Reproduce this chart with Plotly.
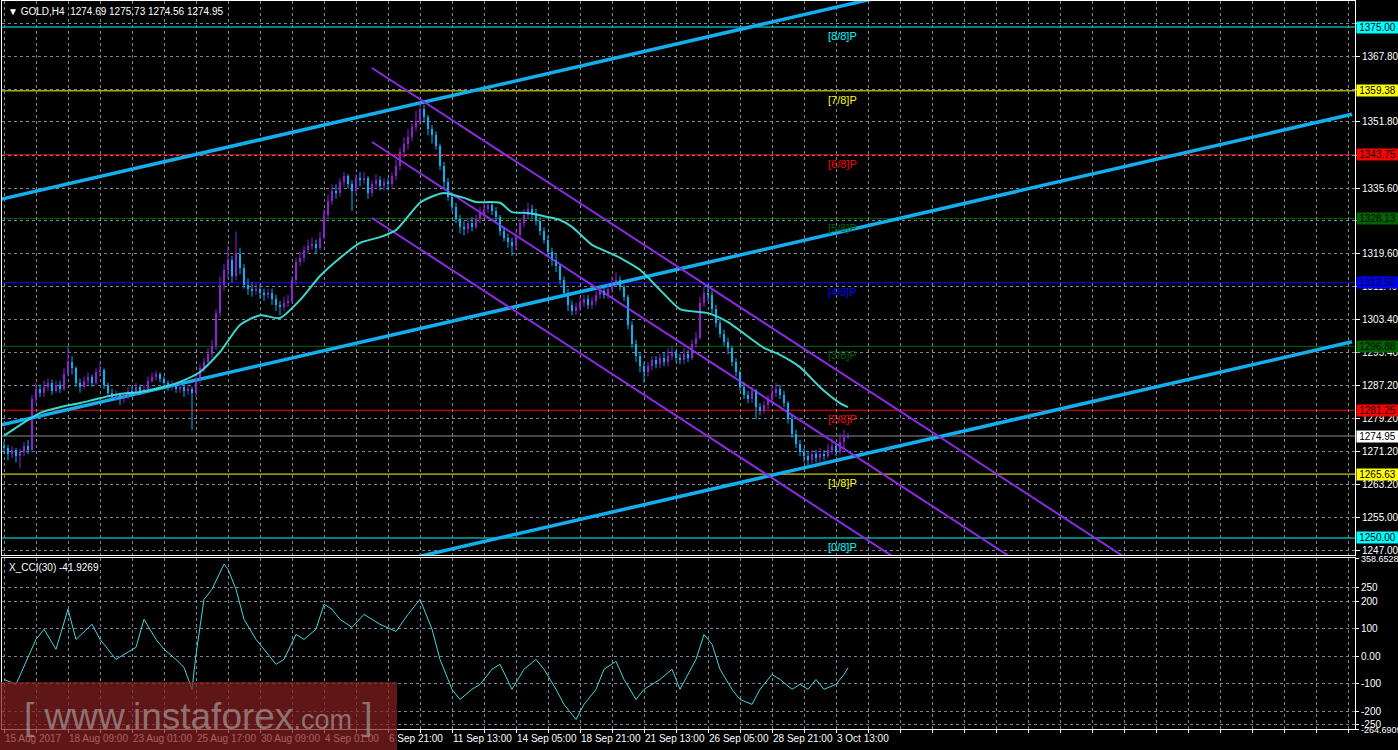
import plotly.graph_objects as go

# ---------------- data ----------------
first_open = 1272.5
close = [1272.0,1270.5,1271.5,1270.0,1271.0,1272.5,1271.5,1284.0,1286.5,1285.5,
         1287.0,1288.0,1286.0,1287.5,1286.5,1290.0,1293.0,1291.5,1288.0,1287.0,
         1288.5,1289.5,1288.0,1290.5,1291.0,1287.5,1285.5,1284.5,1285.0,1284.0,
         1284.5,1286.0,1285.5,1287.0,1286.0,1286.5,1288.5,1289.5,1290.0,1289.0,
         1288.0,1287.0,1287.5,1286.5,1287.0,1286.0,1286.5,1285.5,1289.0,1291.5,
         1293.0,1295.0,1297.0,1305.0,1312.0,1315.5,1318.0,1314.0,1319.5,1316.0,
         1312.0,1311.0,1310.5,1311.0,1310.0,1309.5,1310.0,1308.5,1307.0,1306.5,
         1307.5,1308.0,1313.0,1317.5,1318.5,1320.5,1321.5,1322.0,1321.0,1323.5,
         1329.0,1332.5,1335.0,1334.5,1337.0,1338.5,1336.5,1335.0,1338.0,1337.5,
         1338.0,1334.5,1336.5,1337.5,1336.0,1337.0,1336.5,1338.5,1341.0,1344.5,
         1346.5,1348.0,1350.5,1352.0,1355.0,1353.0,1350.0,1348.5,1346.0,1341.0,
         1337.0,1333.5,1331.0,1328.0,1326.0,1325.5,1327.0,1326.0,1328.0,1329.5,
         1330.5,1331.5,1330.0,1328.5,1325.0,1323.5,1322.5,1321.5,1324.0,1327.0,
         1329.0,1330.5,1329.5,1327.5,1325.0,1323.0,1320.0,1318.0,1316.5,1313.0,
         1310.0,1307.0,1305.5,1306.5,1307.5,1308.5,1307.0,1308.0,1309.5,1310.5,
         1309.5,1311.0,1312.5,1313.0,1311.5,1309.0,1302.0,1297.5,1294.5,1292.0,
         1290.5,1292.0,1293.5,1292.5,1294.0,1293.0,1294.5,1295.5,1294.0,1293.5,
         1295.0,1294.0,1297.5,1299.0,1307.5,1310.0,1309.5,1306.0,1302.5,1300.0,
         1298.0,1296.5,1293.0,1290.5,1287.0,1285.0,1284.0,1286.0,1282.0,1281.0,
         1282.5,1284.0,1285.5,1286.5,1285.0,1283.0,1279.0,1275.5,1273.0,1271.0,
         1270.0,1269.0,1270.5,1269.5,1270.5,1270.0,1271.5,1272.5,1271.0,1273.5,
         1274.69,1274.95]
highs = [1273.5,1272.8,1272.5,1272.0,1271.8,1273.5,1274.0,1285.0,1288.0,1287.5,
         1288.5,1289.0,1288.8,1288.5,1288.5,1291.5,1297.0,1294.5,1292.0,1289.0,
         1289.5,1290.5,1290.0,1291.5,1293.0,1291.5,1288.0,1286.5,1286.0,1285.5,
         1285.5,1287.0,1287.0,1288.0,1287.5,1287.5,1289.5,1290.5,1291.0,1290.5,
         1289.5,1288.5,1288.5,1288.0,1288.0,1287.5,1287.5,1287.0,1290.0,1292.5,
         1294.0,1296.5,1298.5,1306.0,1314.0,1317.0,1321.5,1319.0,1325.0,1321.0,
         1317.0,1313.5,1312.5,1312.5,1312.0,1311.0,1311.0,1311.0,1309.5,1308.0,
         1309.0,1309.5,1314.0,1318.5,1320.0,1321.5,1323.0,1323.5,1323.0,1325.0,
         1330.5,1334.0,1336.5,1336.5,1338.0,1339.5,1339.0,1337.5,1339.0,1339.5,
         1339.5,1338.5,1337.5,1339.0,1338.5,1338.0,1338.0,1339.5,1342.5,1345.5,
         1348.0,1350.0,1351.5,1354.5,1356.5,1356.0,1353.5,1351.0,1349.5,1346.5,
         1342.0,1338.0,1334.5,1332.0,1329.0,1327.5,1328.0,1328.5,1329.0,1331.0,
         1332.0,1332.5,1332.0,1331.0,1329.0,1326.0,1324.5,1323.5,1325.0,1328.0,
         1330.5,1332.0,1331.5,1330.5,1328.5,1326.0,1324.0,1321.0,1319.5,1317.0,
         1314.0,1311.0,1308.0,1307.5,1309.0,1309.5,1309.5,1309.0,1310.5,1311.5,
         1311.5,1312.0,1314.0,1315.0,1314.0,1312.0,1309.5,1303.0,1298.5,1295.5,
         1293.0,1293.0,1294.5,1294.5,1295.0,1295.5,1296.5,1297.0,1296.0,1295.0,
         1296.5,1296.0,1298.5,1300.5,1309.0,1311.5,1312.0,1310.5,1307.0,1303.5,
         1301.0,1299.0,1297.0,1294.0,1291.0,1288.0,1286.0,1287.0,1286.5,1283.0,
         1283.5,1285.0,1287.0,1288.0,1287.5,1286.0,1283.5,1280.0,1276.5,1274.0,
         1272.0,1271.0,1271.5,1271.5,1272.0,1271.5,1273.0,1274.5,1273.0,1275.5,
         1276.5,1275.73]
lows = [1270.5,1269.0,1269.5,1268.5,1267.0,1270.0,1270.5,1271.0,1283.0,1284.5,
        1284.5,1286.0,1285.0,1285.5,1285.5,1286.0,1289.5,1290.0,1287.0,1285.5,
        1286.5,1287.5,1287.0,1287.5,1289.5,1286.5,1284.5,1283.5,1283.5,1282.5,
        1283.0,1284.0,1284.5,1285.0,1285.0,1285.0,1286.0,1288.0,1288.5,1288.0,
        1287.0,1286.0,1286.0,1285.5,1285.5,1284.5,1285.0,1276.5,1284.5,1288.0,
        1290.5,1292.0,1294.0,1296.0,1304.0,1310.5,1313.5,1312.5,1313.0,1314.5,
        1311.0,1309.5,1309.0,1309.5,1308.5,1308.0,1308.5,1307.0,1305.5,1304.5,
        1305.5,1306.5,1307.5,1312.0,1316.5,1317.5,1319.5,1320.5,1319.5,1320.5,
        1323.0,1328.0,1331.5,1333.0,1333.5,1336.0,1335.5,1330.0,1334.0,1336.0,
        1336.5,1333.0,1333.5,1335.5,1335.0,1335.0,1335.0,1335.5,1337.5,1340.0,
        1343.0,1345.0,1347.0,1349.5,1351.0,1351.5,1348.5,1346.5,1345.0,1340.0,
        1335.5,1332.5,1330.0,1327.0,1324.5,1324.0,1324.5,1325.0,1325.5,1327.0,
        1328.5,1329.5,1329.0,1327.5,1324.0,1322.5,1321.0,1319.0,1320.5,1323.0,
        1326.0,1328.0,1328.0,1326.5,1324.0,1322.0,1319.0,1316.5,1315.0,1312.0,
        1309.0,1305.5,1304.5,1304.5,1305.5,1306.5,1306.0,1306.0,1307.0,1308.5,
        1308.5,1308.5,1310.0,1311.5,1310.5,1308.0,1301.0,1296.5,1293.0,1290.5,
        1288.0,1289.5,1291.0,1291.5,1291.5,1292.0,1292.0,1293.5,1293.0,1292.5,
        1292.5,1293.0,1293.5,1296.5,1298.5,1306.5,1308.0,1305.0,1301.5,1299.0,
        1297.0,1295.0,1292.0,1289.5,1286.0,1284.0,1283.0,1283.0,1279.0,1280.0,
        1280.5,1281.5,1283.5,1284.5,1284.0,1282.0,1278.0,1274.5,1272.0,1270.0,
        1268.5,1267.5,1268.0,1268.5,1268.5,1269.0,1269.5,1270.5,1270.0,1270.5,
        1272.0,1274.56]

ma_bars = [0,4,9,14,19,24,29,34,39,44,49,54,59,64,69,74,79,84,89,94,98,104,108,110,115,118,
           124,127,131,136,139,142,147,152,155,159,164,169,176,181,190,194,199,204,209,211]
ma_vals = [1275.0,1277.6,1280.6,1282.0,1283.0,1284.2,1285.2,1285.7,1286.7,1288.2,1290.6,1295.5,
           1302.1,1304.5,1303.8,1308.2,1314.1,1318.5,1322.2,1323.6,1325.3,1332.0,1333.9,1334.4,
           1333.2,1332.2,1332.0,1329.7,1329.5,1328.5,1327.8,1326.1,1321.7,1319.5,1318.0,1315.6,
           1310.7,1306.0,1305.0,1302.8,1296.5,1294.8,1291.8,1286.9,1283.0,1282.0]

cci_bars = [0,3,8,10,13,16,18,22,24,28,30,33,35,38,40,43,45,47,48,50,52,55,56,58,60,63,65,68,70,
            73,75,78,80,82,84,87,90,94,98,101,104,105,107,109,112,114,117,119,122,124,127,130,133,
            135,138,140,143,145,148,150,153,155,158,160,164,167,169,173,175,177,179,182,184,187,
            189,192,194,197,199,201,203,205,208,210,211]
cci_vals = [-84,-102,62,99,26,172,62,117,62,-11,7,33,135,62,26,-11,-40,-120,7,208,245,336,318,245,
            135,62,26,-29,-11,80,62,99,190,172,135,106,153,117,91,153,208,172,99,-11,-120,-157,
            -120,-102,-47,-29,-120,-47,-11,-47,-120,-175,-230,-175,-120,-47,-18,-84,-157,-120,-84,
            -47,-120,-11,80,44,-47,-120,-157,-175,-120,-66,-84,-120,-102,-120,-84,-120,-102,-66,-41.93]

date_bars = [0,16,32,48,64,80,96,112,128,144,160,176,192,208]
date_labels = ["15 Aug 2017","18 Aug 09:00","23 Aug 01:00","25 Aug 17:00","30 Aug 09:00",
               "4 Sep 01:00","6 Sep 21:00","11 Sep 13:00","14 Sep 05:00","18 Sep 21:00",
               "21 Sep 13:00","26 Sep 05:00","28 Sep 21:00","3 Oct 13:00"]

price_ticks = [1247.0,1255.0,1263.2,1271.2,1279.2,1287.2,1295.4,1303.4,1311.4,1319.6,1327.6,
               1335.6,1343.6,1351.8,1359.8,1367.8,1375.8]
hidden_ticks = [1343.6, 1359.8, 1375.8]   # fully covered by the level boxes

murray_levels = [1375.00,1359.38,1343.75,1328.13,1312.50,1296.88,1281.25,1265.63,1250.00]
murray_names = ["[8/8]P","[7/8]P","[6/8]P","[5/8]P","[4/8]P","[3/8]P","[2/8]P","[1/8]P","[0/8]P"]
murray_colors = ["#00FFFF","#FFFF00","#FF0000","#006400","#0000FF","#006400","#FF0000","#FFFF00","#00FFFF"]
last_price = 1274.95

cci_ticks = [358.6528,250,200,100,0,-100,-200,-250,-264.6909]
cci_tick_text = ["<span style='font-size:9px'>358.6528</span>","250","200","100","0.00","-100",
                 "-200","-250","<span style='font-size:9px'>-264.6909</span>"]

# trend lines: (bar, price) anchors
blue_lines = [((-1, 1332.8), (337, 1408.85)),
              ((-1, 1277.6), (337, 1353.65)),
              ((-1, 1221.9), (337, 1297.99))]
purple_lines = [((92, 1364.97), (337, 1209.15)),
                ((92, 1346.87), (337, 1191.05)),
                ((92, 1328.28), (337, 1172.46))]

# ---------------- build ----------------
N = len(close)
opens = [first_open] + close[:-1]
bars = list(range(N))

FONT = "Liberation Sans"
GRID = "#7A8796"
BULL = "#9020D8"
BEAR = "#00B4F5"

fig = go.Figure()

for (p0, p1) in blue_lines:
    fig.add_trace(go.Scatter(x=[p0[0], p1[0]], y=[p0[1], p1[1]], mode="lines",
                             line=dict(color="#12AEEE", width=3.5), xaxis="x", yaxis="y",
                             hoverinfo="skip", showlegend=False))
for (p0, p1) in purple_lines:
    fig.add_trace(go.Scatter(x=[p0[0], p1[0]], y=[p0[1], p1[1]], mode="lines",
                             line=dict(color="#8A2BE2", width=2), xaxis="x", yaxis="y",
                             hoverinfo="skip", showlegend=False))

# candles: wicks + bodies
for is_bull, col in ((True, BULL), (False, BEAR)):
    wx, wy, bx, bb, bh = [], [], [], [], []
    for i in bars:
        o, c = opens[i], close[i]
        if (c >= o) != is_bull:
            continue
        wx += [i, i, None]
        wy += [lows[i], highs[i], None]
        bx.append(i)
        bb.append(min(o, c))
        bh.append(max(abs(c - o), 0.25))
    fig.add_trace(go.Scatter(x=wx, y=wy, mode="lines", line=dict(color=col, width=1),
                             xaxis="x", yaxis="y", hoverinfo="skip", showlegend=False))
    fig.add_trace(go.Bar(x=bx, y=bh, base=bb, width=0.74, marker=dict(color=col, line=dict(width=0)),
                         xaxis="x", yaxis="y", hoverinfo="skip", showlegend=False))

fig.add_trace(go.Scatter(x=ma_bars, y=ma_vals, mode="lines",
                         line=dict(color="#3CD8CC", width=2, shape="spline", smoothing=0.6),
                         xaxis="x", yaxis="y", hoverinfo="skip", showlegend=False))

fig.add_trace(go.Scatter(x=cci_bars, y=cci_vals, mode="lines",
                         line=dict(color="#48D4E0", width=1),
                         xaxis="x2", yaxis="y2", hoverinfo="skip", showlegend=False))

shapes = []
for lv, col in zip(murray_levels, murray_colors):
    shapes.append(dict(type="line", xref="paper", x0=0, x1=1, yref="y", y0=lv, y1=lv,
                       line=dict(color=col, width=1), layer="below"))
shapes.append(dict(type="line", xref="paper", x0=0, x1=1, yref="y", y0=last_price, y1=last_price,
                   line=dict(color="#8C8C8C", width=1), layer="below"))
# watermark box
shapes.append(dict(type="rect", xref="paper", yref="paper",
                   x0=-0.002, x1=(397 - 2) / 1353, y0=(729 - 682) / 728, y1=(729 - 752) / 728,
                   fillcolor="rgba(130,30,30,0.72)", line=dict(width=0), layer="above"))

annotations = []
for lv, col in zip(murray_levels, murray_colors):
    annotations.append(dict(xref="paper", x=1, xanchor="left", xshift=1, yref="y", y=lv,
                            yanchor="middle", text=f"{lv:.2f}", showarrow=False,
                            bgcolor=col, borderpad=0, width=41, align="center",
                            font=dict(family=FONT, size=10, color="#000000")))
annotations.append(dict(xref="paper", x=1, xanchor="left", xshift=1, yref="y", y=last_price,
                        yanchor="middle", text=f"{last_price:.2f}", showarrow=False,
                        bgcolor="#FFFFFF", borderpad=0, width=41, align="center",
                        font=dict(family=FONT, size=10, color="#000000")))
for lv, name, col in zip(murray_levels, murray_names, murray_colors):
    annotations.append(dict(xref="x", x=205.5, xanchor="left", yref="y", y=lv, yanchor="top",
                            text=name, showarrow=False, yshift=-1,
                            font=dict(family=FONT, size=11, color=col)))
annotations.append(dict(xref="paper", x=0, xanchor="left", xshift=4, yref="paper", y=1,
                        yanchor="top", yshift=-3,
                        text="▼ GOLD,H4  1274.69 1275.73 1274.56 1274.95", showarrow=False,
                        font=dict(family=FONT, size=10, color="#FFFFFF")))
annotations.append(dict(xref="paper", x=0, xanchor="left", xshift=5, yref="paper",
                        y=(729 - 558) / 728, yanchor="top", yshift=-2,
                        text="X_CCI(30) -41.9269", showarrow=False,
                        font=dict(family=FONT, size=10, color="#FFFFFF")))
annotations.append(dict(xref="paper", x=(22 - 2) / 1353, xanchor="left", yref="paper",
                        y=(729 - 716) / 728, yanchor="middle",
                        text="[ www.instaforex<span style='font-size:27px'>.com</span> ]",
                        showarrow=False,
                        font=dict(family=FONT, size=37, color="rgba(175,175,175,0.62)")))

grid_vals = list(range(0, 337, 8))
grid_text = [date_labels[date_bars.index(g)] if g in date_bars else "" for g in grid_vals]
price_text = ["" if t in hidden_ticks else f"{t:.2f}" for t in price_ticks]

main_bottom = (729 - 555) / 728
cci_top = (729 - 558) / 728

axis_common = dict(showgrid=True, gridcolor=GRID, griddash="3px,3px", gridwidth=1, automargin=False,
                   zeroline=False, showline=True, linecolor="#FFFFFF", linewidth=1, mirror=True)

fig.update_layout(
    width=1398, height=750,
    margin=dict(l=2, r=43, t=1, b=21, autoexpand=False),
    paper_bgcolor="#000000", plot_bgcolor="#000000",
    showlegend=False, barmode="overlay", bargap=0,
    font=dict(family=FONT, size=10, color="#FFFFFF"),
    xaxis=dict(domain=[0, 1], anchor="y", range=[-0.5, 337.75], tickmode="array",
               tickvals=grid_vals, ticktext=["" for _ in grid_vals], ticks="",
               showticklabels=False, rangeslider=dict(visible=False), **axis_common),
    yaxis=dict(domain=[main_bottom, 1], anchor="x", side="right", range=[1245.84, 1381.36],
               tickmode="array", tickvals=price_ticks, ticktext=price_text,
               ticks="outside", ticklen=4, tickcolor="#FFFFFF",
               tickfont=dict(family=FONT, size=10, color="#FFFFFF"), **axis_common),
    xaxis2=dict(domain=[0, 1], anchor="y2", range=[-0.5, 337.75], tickmode="array",
                tickvals=grid_vals, ticktext=grid_text, ticks="outside", ticklen=3,
                tickcolor="#FFFFFF", ticklabelposition="outside right", tickangle=0,
                tickfont=dict(family=FONT, size=10, color="#FFFFFF"), **axis_common),
    yaxis2=dict(domain=[0, cci_top], anchor="x2", side="right", range=[-264.6909, 358.6528],
                tickmode="array", tickvals=cci_ticks, ticktext=cci_tick_text,
                ticks="outside", ticklen=3, tickcolor="#FFFFFF",
                tickfont=dict(family=FONT, size=10, color="#FFFFFF"), **axis_common),
    shapes=shapes, annotations=annotations,
)

fig.write_html("out.html", config={"displayModeBar": False},
               post_script="document.body.style.margin='0';document.body.style.overflow='hidden';")
